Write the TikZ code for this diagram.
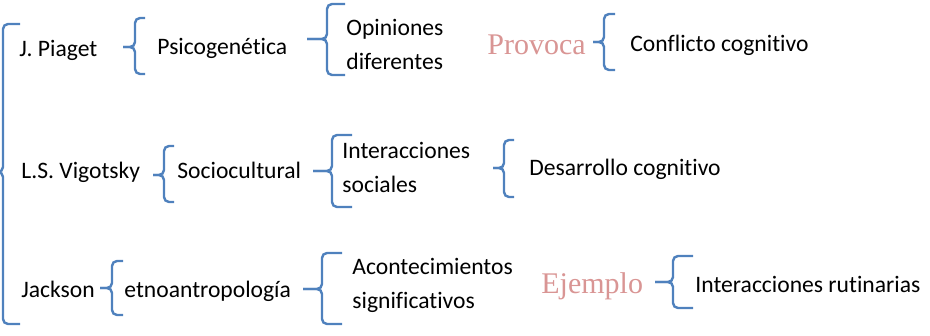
\documentclass[tikz,border=0pt]{standalone}
\usepackage{fontspec}
\setmainfont[Ligatures=NoCommon]{Carlito}
\newfontfamily\enlacefont{Liberation Serif}
\usepackage{tikz}
\usetikzlibrary{positioning}
\definecolor{llaveazul}{RGB}{79,129,189}
\definecolor{rosaenlace}{RGB}{217,149,148}
\tikzset{
	llave/.style={draw=llaveazul, line width=1.2pt, rounded corners=2.5pt},
	texto/.style={anchor=base west, inner sep=0pt, align=left, font=\fontsize{11.8}{17}\selectfont},
	enlace/.style={anchor=base west, inner sep=0pt, text=rosaenlace, font=\enlacefont\fontsize{15}{18}\selectfont}
}
% #1 beak x, #2 vertical x, #3 right x, #4 top y, #5 middle y, #6 bottom y
\newcommand{\Llave}[6]{%
	\draw[llave] (#3,#4) -- (#2,#4) -- (#2,#5) -- (#1,#5);%
	\draw[llave] (#3,#6) -- (#2,#6) -- (#2,#5) -- (#1,#5);%
}

\begin{document}
\begin{tikzpicture}[x=0.5pt, y=-0.5pt]
\useasboundingbox (0,0) rectangle (930,336);

% Draw main bracket
\Llave{0}{3}{20}{24}{172}{324}

% Draw first row (two-line nodes sit on their last baseline)
\node[texto] (piaget) at (19,57) {J. Piaget};
\Llave{123}{135}{145}{18}{47}{74}
\node[texto] (psico) at (157,55) {Psicogenética};
\Llave{307}{327}{345}{4}{39}{75}
\node[texto] (opiniones) at (346,70) {Opiniones\\diferentes};
\node[enlace] (provoca) at (487,55) {Provoca};
\Llave{593}{604}{615}{14}{42}{70}
\node[texto] (conflicto) at (630,52) {Conflicto cognitivo};

% Draw second row
\node[texto] (vigotsky) at (21,179) {L.S. Vigotsky};
\Llave{153}{164}{174}{146}{175}{202}
\node[texto] (socio) at (177,179) {Sociocultural};
\Llave{313}{332}{352}{135}{171}{207}
\node[texto] (interac) at (342,192) {Interacciones\\sociales};
\Llave{493}{504}{514}{140}{168}{197}
\node[texto] (desarrollo) at (529,176) {Desarrollo cognitivo};

% Draw third row
\node[texto] (jackson) at (21,297) {Jackson};
\Llave{100}{112}{123}{261}{288}{315}
\node[texto] (etno) at (124,297) {etnoantropología};
\Llave{303}{322}{342}{253}{289}{324}
\node[texto] (aconte) at (352,308) {Acontecimientos\\significativos};
\node[enlace] (ejemplo) at (541,293) {Ejemplo};
\Llave{655}{673}{693}{256}{282}{308}
\node[texto] (rutinas) at (695,292) {Interacciones rutinarias};
\end{tikzpicture}
\end{document}
